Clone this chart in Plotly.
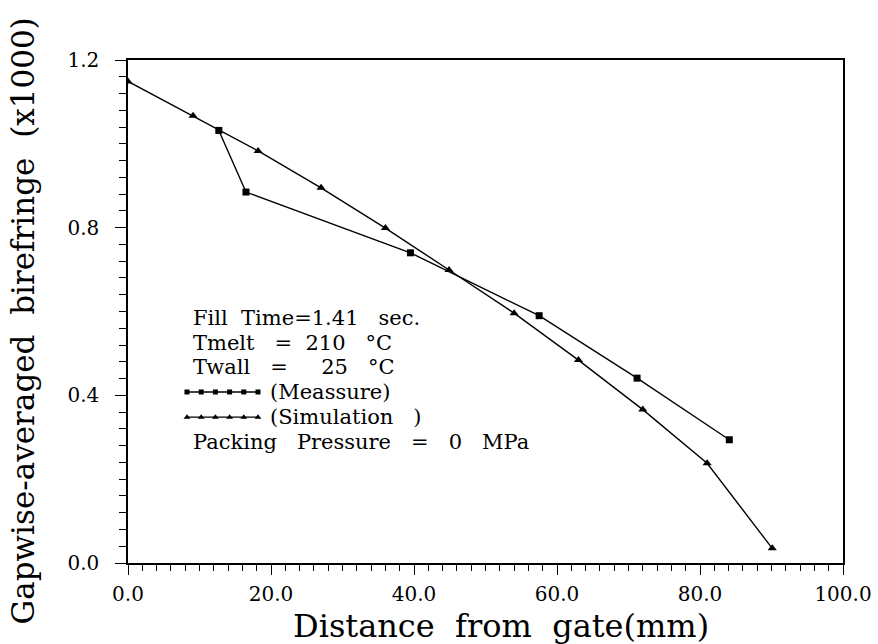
import numpy as np
import plotly.graph_objects as go

# ---- data ----
measure_x = [12.7, 16.5, 39.5, 57.5, 71.2, 84.1]
measure_y = [1.032, 0.885, 0.740, 0.590, 0.441, 0.294]

sim_x = [0.0, 9.1, 18.2, 27.0, 36.0, 44.9, 54.0, 63.0, 72.0, 81.0, 90.1]
sim_y = [1.149, 1.067, 0.983, 0.895, 0.799, 0.699, 0.596, 0.484, 0.366, 0.238, 0.035]

x_tickvals = [0, 20, 40, 60, 80, 100]
x_ticktext = ["0.0", "20.0", "40.0", "60.0", "80.0", "100.0"]
y_tickvals = [0.0, 0.4, 0.8, 1.2]
y_ticktext = ["0.0", "0.4", "0.8", "1.2"]

NB = "\u00a0"
info_lines = ["Fill" + NB * 2 + "Time=1.41" + NB * 3 + "sec.",
              "Tmelt" + NB * 3 + "=" + NB * 2 + "210" + NB * 3 + "°C",
              "Twall" + NB * 3 + "=" + NB * 5 + "25" + NB * 3 + "°C"]
legend_labels = ["(Meassure)", "(Simulation" + NB * 3 + ")"]
footer_line = "Packing" + NB * 3 + "Pressure" + NB * 3 + "=" + NB * 3 + "0" + NB * 3 + "MPa"

SERIF = "DejaVu Serif"

fig = go.Figure()

fig.add_trace(go.Scatter(x=measure_x, y=measure_y, mode="lines+markers",
                         line=dict(color="black", width=1.4),
                         marker=dict(symbol="square", size=7, color="black"),
                         showlegend=False))
fig.add_trace(go.Scatter(x=sim_x, y=sim_y, mode="lines+markers",
                         line=dict(color="black", width=1.4),
                         marker=dict(symbol="triangle-up", size=8, color="black"),
                         showlegend=False))

# legend keys (drawn on an overlay axis in plot-fraction units)
kx = np.linspace(0.0825, 0.1818, 6)
fig.add_trace(go.Scatter(x=kx, y=[0.340] * 6, xaxis="x2", yaxis="y2", mode="lines+markers",
                         line=dict(color="black", width=1.5),
                         marker=dict(symbol="square", size=5, color="black"),
                         showlegend=False, hoverinfo="skip"))
fig.add_trace(go.Scatter(x=kx, y=[0.290] * 6, xaxis="x2", yaxis="y2", mode="lines+markers",
                         line=dict(color="black", width=1.2),
                         marker=dict(symbol="triangle-up", size=6, color="black"),
                         showlegend=False, hoverinfo="skip"))

ann = []
text_font = dict(family=SERIF, size=21, color="black")
line_y = [318, 343, 367, 392, 417, 442]
def py(p):
    return (563 - p) / 503.0
for i, t in enumerate(info_lines):
    ann.append(dict(x=0.088, y=py(line_y[i]), xref="paper", yref="paper", text=t,
                    showarrow=False, xanchor="left", yanchor="middle", font=text_font))
for i, t in enumerate(legend_labels):
    ann.append(dict(x=0.196, y=py(line_y[3 + i]), xref="paper", yref="paper", text=t,
                    showarrow=False, xanchor="left", yanchor="middle", font=text_font))
ann.append(dict(x=0.088, y=py(line_y[5]), xref="paper", yref="paper", text=footer_line,
                showarrow=False, xanchor="left", yanchor="middle", font=text_font))

# axis titles
ann.append(dict(x=0.5217, y=py(626), xref="paper", yref="paper",
                text="Distance" + NB * 2 + "from" + NB * 2 + "gate(mm)", showarrow=False,
                xanchor="center", yanchor="middle", font=dict(family=SERIF, size=32, color="black")))
ann.append(dict(x=(22 - 128) / 715.0, y=py(321.5), xref="paper", yref="paper",
                text="Gapwise-averaged" + NB * 2 + "birefringe" + NB * 2 + "(x1000)", showarrow=False,
                textangle=-90, xanchor="center", yanchor="middle",
                font=dict(family=SERIF, size=31, color="black")))

fig.update_layout(
    width=878, height=644, autosize=False,
    margin=dict(l=128, r=35, t=60, b=81),
    paper_bgcolor="white", plot_bgcolor="white",
    font=dict(family=SERIF, color="black"),
    annotations=ann,
    xaxis=dict(range=[0, 100], tickvals=x_tickvals, ticktext=x_ticktext,
               ticks="outside", ticklen=10, tickwidth=1.3, tickcolor="black",
               minor=dict(ticks="outside", ticklen=6, dtick=2, tickwidth=1, tickcolor="black"),
               showgrid=False, zeroline=False, showline=True, linecolor="black",
               linewidth=1.5, mirror=True, tickfont=dict(family=SERIF, size=20),
               ticklabelstandoff=2, automargin=False),
    yaxis=dict(range=[0, 1.2], tickvals=y_tickvals, ticktext=y_ticktext,
               ticks="outside", ticklen=11, tickwidth=1.3, tickcolor="black",
               minor=dict(ticks="outside", ticklen=7, dtick=0.04, tickwidth=1, tickcolor="black"),
               showgrid=False, zeroline=False, showline=True, linecolor="black",
               linewidth=1.5, mirror=True, tickfont=dict(family=SERIF, size=20),
               ticklabelstandoff=12, automargin=False),
    xaxis2=dict(range=[0, 1], overlaying="x", visible=False),
    yaxis2=dict(range=[0, 1], overlaying="y", visible=False),
)

fig.write_html("out.html")
